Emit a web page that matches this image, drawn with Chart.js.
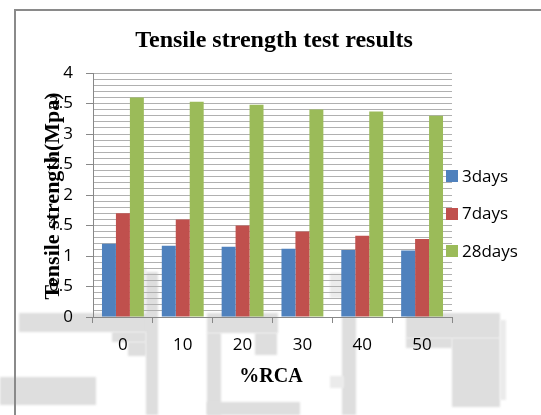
<!DOCTYPE html>
<html>
<head>
<meta charset="utf-8">
<script src="https://cdn.jsdelivr.net/npm/chart.js@4/dist/chart.umd.min.js"></script>
<style>
  html, body { margin: 0; padding: 0; background: #ffffff; }
  #wrap { width: 541px; height: 415px; }
</style>
</head>
<body>
<div id="wrap"><canvas id="c" width="541" height="415"></canvas></div>
<script>
// %RCA replacement levels
const categories = ['0', '10', '20', '30', '40', '50'];
// Split tensile strength (MPa) by curing age
const days3 = [1.2, 1.17, 1.15, 1.12, 1.1, 1.09];
const days7 = [1.7, 1.6, 1.5, 1.4, 1.33, 1.28];
const days28 = [3.6, 3.53, 3.48, 3.4, 3.37, 3.3];
const seriesNames = ['3days', '7days', '28days'];
const seriesColors = ['#4F81BD', '#C0504D', '#9BBB59'];

const chartTitle = 'Tensile strength test results';
const yTitle = 'Tensile strength(Mpa)';
const xTitle = '%RCA';

const sansFont = '"Open Sans", "Liberation Sans", sans-serif';
const serifFont = '"Liberation Serif", "DejaVu Serif", serif';

// Paper backdrop: white page, faint grey blotches and the grey frame
const backdrop = {
  id: 'backdrop',
  beforeDraw(chart) {
    const ctx = chart.ctx;
    ctx.save();
    ctx.fillStyle = '#ffffff';
    ctx.fillRect(0, 0, chart.width, chart.height);

    ctx.filter = 'blur(1px)';
    ctx.fillStyle = '#dedede';
    const blocks = [
      [19, 313, 132, 19],
      [146, 272, 12, 143],
      [112, 332, 34, 10],
      [128, 342, 18, 14],
      [0, 377, 96, 28],
      [207, 313, 71, 20],
      [207, 333, 14, 82],
      [255, 333, 22, 22],
      [207, 402, 93, 13],
      [342, 317, 14, 98],
      [406, 313, 94, 25],
      [452, 338, 48, 69],
      [406, 338, 46, 10]
    ];
    blocks.forEach(b => ctx.fillRect(b[0], b[1], b[2], b[3]));

    ctx.fillStyle = '#ebebeb';
    const light = [
      [330, 273, 14, 25],
      [330, 376, 14, 12],
      [141, 268, 5, 45],
      [500, 320, 6, 80]
    ];
    light.forEach(b => ctx.fillRect(b[0], b[1], b[2], b[3]));
    ctx.filter = 'none';

    // frame
    ctx.fillStyle = '#8a8a8a';
    ctx.fillRect(14, 9, chart.width - 14, 2);
    ctx.fillRect(14, 9, 2, chart.height - 9);
    ctx.restore();
  }
};

// Titles and legend
const annotations = {
  id: 'annotations',
  afterDraw(chart) {
    const ctx = chart.ctx;
    const area = chart.chartArea;
    ctx.save();
    ctx.fillStyle = '#000000';

    ctx.font = 'bold 24px ' + serifFont;
    ctx.textAlign = 'center';
    ctx.textBaseline = 'alphabetic';
    ctx.fillText(chartTitle, 274, 47);

    ctx.font = 'bold 20px ' + serifFont;
    ctx.fillText(xTitle, 271, 382);

    ctx.save();
    ctx.translate(59, (area.top + area.bottom) / 2 + 1);
    ctx.rotate(-Math.PI / 2);
    ctx.font = 'bold 22px ' + serifFont;
    ctx.fillText(yTitle, 0, 0);
    ctx.restore();

    // legend
    ctx.font = '17px ' + sansFont;
    ctx.textAlign = 'left';
    ctx.textBaseline = 'middle';
    chart.data.datasets.forEach((ds, i) => {
      const cy = 176 + i * 37.5;
      ctx.fillStyle = ds.backgroundColor;
      ctx.fillRect(446, Math.round(cy - 6), 12, 12);
      ctx.fillStyle = '#000000';
      ctx.fillText(ds.label, 462, cy + 1);
    });
    ctx.restore();
  }
};

new Chart(document.getElementById('c'), {
  type: 'bar',
  data: {
    labels: categories,
    datasets: [
      { label: seriesNames[0], data: days3, backgroundColor: seriesColors[0] },
      { label: seriesNames[1], data: days7, backgroundColor: seriesColors[1] },
      { label: seriesNames[2], data: days28, backgroundColor: seriesColors[2] }
    ]
  },
  options: {
    responsive: false,
    animation: false,
    layout: { padding: { top: 73, right: 89, left: 0, bottom: 0 } },
    datasets: {
      bar: { categoryPercentage: 0.7, barPercentage: 1.0, borderWidth: 0 }
    },
    plugins: {
      legend: { display: false },
      title: { display: false },
      tooltip: { enabled: false }
    },
    scales: {
      x: {
        offset: true,
        afterFit(scale) { scale.height = 98; },
        grid: {
          offset: true,
          drawOnChartArea: false,
          drawTicks: true,
          tickLength: 6,
          tickColor: '#888888'
        },
        border: { color: '#888888', width: 1 },
        ticks: {
          color: '#000000',
          font: { family: sansFont, size: 17 },
          padding: 12,
          maxRotation: 0
        }
      },
      y: {
        min: 0,
        max: 4,
        afterFit(scale) { scale.width = 93; },
        grid: {
          color: '#b0b0b0',
          lineWidth: 1,
          tickLength: 7,
          tickColor(ctx) {
            const t = ctx.tick ? Math.round(ctx.tick.value * 10) : 0;
            return t % 5 === 0 ? '#888888' : 'rgba(0,0,0,0)';
          }
        },
        border: { color: '#888888', width: 1 },
        ticks: {
          stepSize: 0.1,
          maxTicksLimit: 100,
          autoSkip: false,
          color: '#000000',
          font: { family: sansFont, size: 17 },
          padding: 13,
          callback(value) {
            const t = Math.round(value * 10);
            return t % 5 === 0 ? String(t / 10) : '';
          }
        }
      }
    }
  },
  plugins: [backdrop, annotations]
});
</script>
</body>
</html>
